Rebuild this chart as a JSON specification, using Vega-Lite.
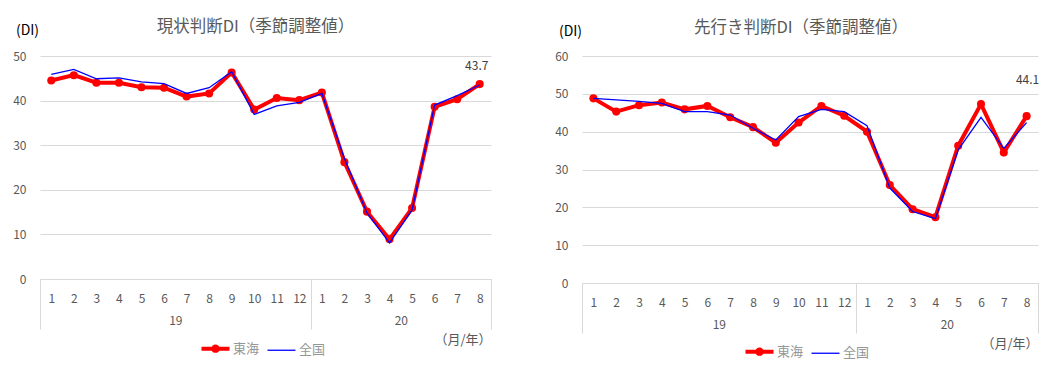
{
  "$schema": "https://vega.github.io/schema/vega-lite/v6.json",
  "background": "white",
  "padding": {"left": 12, "top": 18, "right": 0, "bottom": 0},
  "spacing": 60,
  "resolve": {"scale": {"color": "independent"}, "legend": {"color": "independent"}},
  "datasets": {
    "d1": [
      {"period": "2019-01", "series": "東海", "value": 44.5},
      {"period": "2019-02", "series": "東海", "value": 45.7},
      {"period": "2019-03", "series": "東海", "value": 44.0},
      {"period": "2019-04", "series": "東海", "value": 44.0},
      {"period": "2019-05", "series": "東海", "value": 43.0},
      {"period": "2019-06", "series": "東海", "value": 42.9},
      {"period": "2019-07", "series": "東海", "value": 40.9},
      {"period": "2019-08", "series": "東海", "value": 41.6},
      {"period": "2019-09", "series": "東海", "value": 46.3},
      {"period": "2019-10", "series": "東海", "value": 38.0},
      {"period": "2019-11", "series": "東海", "value": 40.6},
      {"period": "2019-12", "series": "東海", "value": 40.1},
      {"period": "2020-01", "series": "東海", "value": 41.8},
      {"period": "2020-02", "series": "東海", "value": 26.2},
      {"period": "2020-03", "series": "東海", "value": 15.1},
      {"period": "2020-04", "series": "東海", "value": 8.9},
      {"period": "2020-05", "series": "東海", "value": 15.9},
      {"period": "2020-06", "series": "東海", "value": 38.6},
      {"period": "2020-07", "series": "東海", "value": 40.3},
      {"period": "2020-08", "series": "東海", "value": 43.7},
      {"period": "2019-01", "series": "全国", "value": 45.9},
      {"period": "2019-02", "series": "全国", "value": 47.0},
      {"period": "2019-03", "series": "全国", "value": 44.9},
      {"period": "2019-04", "series": "全国", "value": 45.1},
      {"period": "2019-05", "series": "全国", "value": 44.2},
      {"period": "2019-06", "series": "全国", "value": 43.8},
      {"period": "2019-07", "series": "全国", "value": 41.6},
      {"period": "2019-08", "series": "全国", "value": 42.9},
      {"period": "2019-09", "series": "全国", "value": 46.5},
      {"period": "2019-10", "series": "全国", "value": 36.9},
      {"period": "2019-11", "series": "全国", "value": 38.8},
      {"period": "2019-12", "series": "全国", "value": 39.6},
      {"period": "2020-01", "series": "全国", "value": 41.6},
      {"period": "2020-02", "series": "全国", "value": 27.0},
      {"period": "2020-03", "series": "全国", "value": 14.8},
      {"period": "2020-04", "series": "全国", "value": 8.1},
      {"period": "2020-05", "series": "全国", "value": 15.5},
      {"period": "2020-06", "series": "全国", "value": 39.0},
      {"period": "2020-07", "series": "全国", "value": 41.1},
      {"period": "2020-08", "series": "全国", "value": 43.5}
    ],
    "d2": [
      {"period": "2019-01", "series": "東海", "value": 48.8},
      {"period": "2019-02", "series": "東海", "value": 45.3},
      {"period": "2019-03", "series": "東海", "value": 47.0},
      {"period": "2019-04", "series": "東海", "value": 47.7},
      {"period": "2019-05", "series": "東海", "value": 45.9},
      {"period": "2019-06", "series": "東海", "value": 46.8},
      {"period": "2019-07", "series": "東海", "value": 43.8},
      {"period": "2019-08", "series": "東海", "value": 41.2},
      {"period": "2019-09", "series": "東海", "value": 37.1},
      {"period": "2019-10", "series": "東海", "value": 42.4},
      {"period": "2019-11", "series": "東海", "value": 46.8},
      {"period": "2019-12", "series": "東海", "value": 44.2},
      {"period": "2020-01", "series": "東海", "value": 40.0},
      {"period": "2020-02", "series": "東海", "value": 25.9},
      {"period": "2020-03", "series": "東海", "value": 19.5},
      {"period": "2020-04", "series": "東海", "value": 17.4},
      {"period": "2020-05", "series": "東海", "value": 36.3},
      {"period": "2020-06", "series": "東海", "value": 47.3},
      {"period": "2020-07", "series": "東海", "value": 34.5},
      {"period": "2020-08", "series": "東海", "value": 44.1},
      {"period": "2019-01", "series": "全国", "value": 48.8},
      {"period": "2019-02", "series": "全国", "value": 48.4},
      {"period": "2019-03", "series": "全国", "value": 48.0},
      {"period": "2019-04", "series": "全国", "value": 47.5},
      {"period": "2019-05", "series": "全国", "value": 45.3},
      {"period": "2019-06", "series": "全国", "value": 45.3},
      {"period": "2019-07", "series": "全国", "value": 44.4},
      {"period": "2019-08", "series": "全国", "value": 40.9},
      {"period": "2019-09", "series": "全国", "value": 37.8},
      {"period": "2019-10", "series": "全国", "value": 44.0},
      {"period": "2019-11", "series": "全国", "value": 45.9},
      {"period": "2019-12", "series": "全国", "value": 45.3},
      {"period": "2020-01", "series": "全国", "value": 41.6},
      {"period": "2020-02", "series": "全国", "value": 25.1},
      {"period": "2020-03", "series": "全国", "value": 18.9},
      {"period": "2020-04", "series": "全国", "value": 17.0},
      {"period": "2020-05", "series": "全国", "value": 35.2},
      {"period": "2020-06", "series": "全国", "value": 43.8},
      {"period": "2020-07", "series": "全国", "value": 35.6},
      {"period": "2020-08", "series": "全国", "value": 42.4}
    ],
    "years": [{"pos": 0}, {"pos": 20}]
  },
  "hconcat": [
    {
      "width": 451,
      "height": 223,
      "title": {"text": "現状判断DI（季節調整値）", "fontSize": 16.5, "fontWeight": "normal", "color": "#595959", "anchor": "middle", "dx": -10, "offset": -12},
      "resolve": {"scale": {"x": "independent"}, "axis": {"x": "independent"}},
      "layer": [
        {
          "data": {"name": "d1"},
          "encoding": {
            "x": {"field": "period", "type": "ordinal", "scale": {"type": "point", "padding": 0.5},
              "axis": {"title": null, "labelAngle": 0, "labelExpr": "'' + toNumber(substring(datum.value, 5, 7))", "ticks": false, "tickSize": 0, "domain": true, "domainColor": "#d9d9d9", "domainWidth": 1, "labelPadding": 14, "labelColor": "#595959", "labelFontSize": 12, "grid": false}},
            "y": {"field": "value", "type": "quantitative", "scale": {"domain": [0, 50], "nice": false},
              "axis": {"values": [0, 10, 20, 30, 40, 50], "grid": true, "gridColor": "#d9d9d9", "domain": false, "ticks": false, "tickSize": 0, "labelPadding": 14, "labelColor": "#595959", "labelFontSize": 12, "title": "(DI)", "titleAngle": 0, "titleX": -13, "titleY": -26, "titleAlign": "center", "titleBaseline": "middle", "titleColor": "#000000", "titleFontWeight": "normal", "titleFontSize": 14}}
          },
          "layer": [
            {
              "transform": [{"filter": "datum.series === '東海'"}],
              "mark": {"type": "line", "strokeWidth": 4, "point": {"filled": true, "size": 65, "opacity": 1}},
              "encoding": {
                "color": {"field": "series", "type": "nominal", "scale": {"domain": ["東海", "全国"], "range": ["#ff0000", "#0000ff"]},
                  "legend": {"orient": "none", "legendX": 160, "legendY": 286, "direction": "horizontal", "title": null, "labelColor": "#969696", "labelFontSize": 13, "symbolSize": 784, "symbolType": "stroke", "symbolOffset": 9, "columnPadding": 4, "labelOffset": 11,
                    "encode": {"symbols": {"update": {"strokeWidth": {"signal": "datum.value === '東海' ? 4 : 1.3"}, "shape": {"signal": "datum.value === '東海' ? 'M-1,0L1,0M-0.16,0A0.16,0.16,0,1,0,0.16,0A0.16,0.16,0,1,0,-0.16,0' : 'stroke'"}, "fill": {"signal": "datum.value === '東海' ? '#ff0000' : 'transparent'"}}}}}}
              }
            },
            {
              "transform": [{"filter": "datum.series === '全国'"}],
              "mark": {"type": "line", "strokeWidth": 1.3},
              "encoding": {"color": {"field": "series", "type": "nominal"}}
            },
            {
              "transform": [{"filter": "datum.series === '東海' && datum.period === '2020-08'"}],
              "mark": {"type": "text", "dy": -18, "dx": -3, "fontSize": 12, "color": "#404040", "align": "center", "baseline": "middle"},
              "encoding": {"text": {"field": "value", "type": "quantitative", "format": ".1f"}}
            }
          ]
        },
        {
          "data": {"name": "years"},
          "mark": {"type": "point", "opacity": 0},
          "encoding": {
            "x": {"field": "pos", "type": "quantitative", "scale": {"domain": [0, 20], "nice": false, "zero": false},
              "axis": {"orient": "bottom", "values": [0, 6, 12, 16, 20], "domain": false, "grid": false, "ticks": true, "tickSize": 50, "tickColor": "#d9d9d9",
                "tickOpacity": {"condition": {"test": "datum.value === 6 || datum.value === 16", "value": 0}, "value": 1},
                "labelExpr": "datum.value === 6 ? '19' : datum.value === 16 ? '20' : ''", "labelPadding": -14, "labelFlush": false, "labelColor": "#595959", "labelFontSize": 12,
                "title": "（月/年）", "titleAnchor": "end", "titleColor": "#595959", "titleFontSize": 13, "titleFontWeight": "normal", "titlePadding": 4}}
          }
        }
      ]
    },
    {
      "width": 456,
      "height": 227,
      "title": {"text": "先行き判断DI（季節調整値）", "fontSize": 16.5, "fontWeight": "normal", "color": "#595959", "anchor": "middle", "dx": -9, "offset": -12},
      "resolve": {"scale": {"x": "independent"}, "axis": {"x": "independent"}},
      "layer": [
        {
          "data": {"name": "d2"},
          "encoding": {
            "x": {"field": "period", "type": "ordinal", "scale": {"type": "point", "padding": 0.5},
              "axis": {"title": null, "labelAngle": 0, "labelExpr": "'' + toNumber(substring(datum.value, 5, 7))", "ticks": false, "tickSize": 0, "domain": true, "domainColor": "#d9d9d9", "domainWidth": 1, "labelPadding": 14, "labelColor": "#595959", "labelFontSize": 12, "grid": false}},
            "y": {"field": "value", "type": "quantitative", "scale": {"domain": [0, 60], "nice": false},
              "axis": {"values": [0, 10, 20, 30, 40, 50, 60], "grid": true, "gridColor": "#d9d9d9", "domain": false, "ticks": false, "tickSize": 0, "labelPadding": 14, "labelColor": "#595959", "labelFontSize": 12, "title": "(DI)", "titleAngle": 0, "titleX": -12, "titleY": -25, "titleAlign": "center", "titleBaseline": "middle", "titleColor": "#000000", "titleFontWeight": "normal", "titleFontSize": 14}}
          },
          "layer": [
            {
              "transform": [{"filter": "datum.series === '東海'"}],
              "mark": {"type": "line", "strokeWidth": 4, "point": {"filled": true, "size": 65, "opacity": 1}},
              "encoding": {
                "color": {"field": "series", "type": "nominal", "scale": {"domain": ["東海", "全国"], "range": ["#ff0000", "#0000ff"]},
                  "legend": {"orient": "none", "legendX": 162, "legendY": 289, "direction": "horizontal", "title": null, "labelColor": "#969696", "labelFontSize": 13, "symbolSize": 784, "symbolType": "stroke", "symbolOffset": 9, "columnPadding": 4, "labelOffset": 11,
                    "encode": {"symbols": {"update": {"strokeWidth": {"signal": "datum.value === '東海' ? 4 : 1.3"}, "shape": {"signal": "datum.value === '東海' ? 'M-1,0L1,0M-0.16,0A0.16,0.16,0,1,0,0.16,0A0.16,0.16,0,1,0,-0.16,0' : 'stroke'"}, "fill": {"signal": "datum.value === '東海' ? '#ff0000' : 'transparent'"}}}}}}
              }
            },
            {
              "transform": [{"filter": "datum.series === '全国'"}],
              "mark": {"type": "line", "strokeWidth": 1.3},
              "encoding": {"color": {"field": "series", "type": "nominal"}}
            },
            {
              "transform": [{"filter": "datum.series === '東海' && datum.period === '2020-08'"}],
              "mark": {"type": "text", "dy": -36, "dx": 1, "fontSize": 12, "color": "#404040", "align": "center", "baseline": "middle"},
              "encoding": {"text": {"field": "value", "type": "quantitative", "format": ".1f"}}
            }
          ]
        },
        {
          "data": {"name": "years"},
          "mark": {"type": "point", "opacity": 0},
          "encoding": {
            "x": {"field": "pos", "type": "quantitative", "scale": {"domain": [0, 20], "nice": false, "zero": false},
              "axis": {"orient": "bottom", "values": [0, 6, 12, 16, 20], "domain": false, "grid": false, "ticks": true, "tickSize": 50, "tickColor": "#d9d9d9",
                "tickOpacity": {"condition": {"test": "datum.value === 6 || datum.value === 16", "value": 0}, "value": 1},
                "labelExpr": "datum.value === 6 ? '19' : datum.value === 16 ? '20' : ''", "labelPadding": -14, "labelFlush": false, "labelColor": "#595959", "labelFontSize": 12,
                "title": "（月/年）", "titleAnchor": "end", "titleColor": "#595959", "titleFontSize": 13, "titleFontWeight": "normal", "titlePadding": 4}}
          }
        }
      ]
    }
  ],
  "config": {
    "view": {"stroke": null},
    "font": "Noto Sans CJK JP",
    "axis": {"labelFont": "Noto Sans CJK JP", "titleFont": "Noto Sans CJK JP"},
    "legend": {"labelFont": "Noto Sans CJK JP"},
    "title": {"font": "Noto Sans CJK JP"}
  }
}
